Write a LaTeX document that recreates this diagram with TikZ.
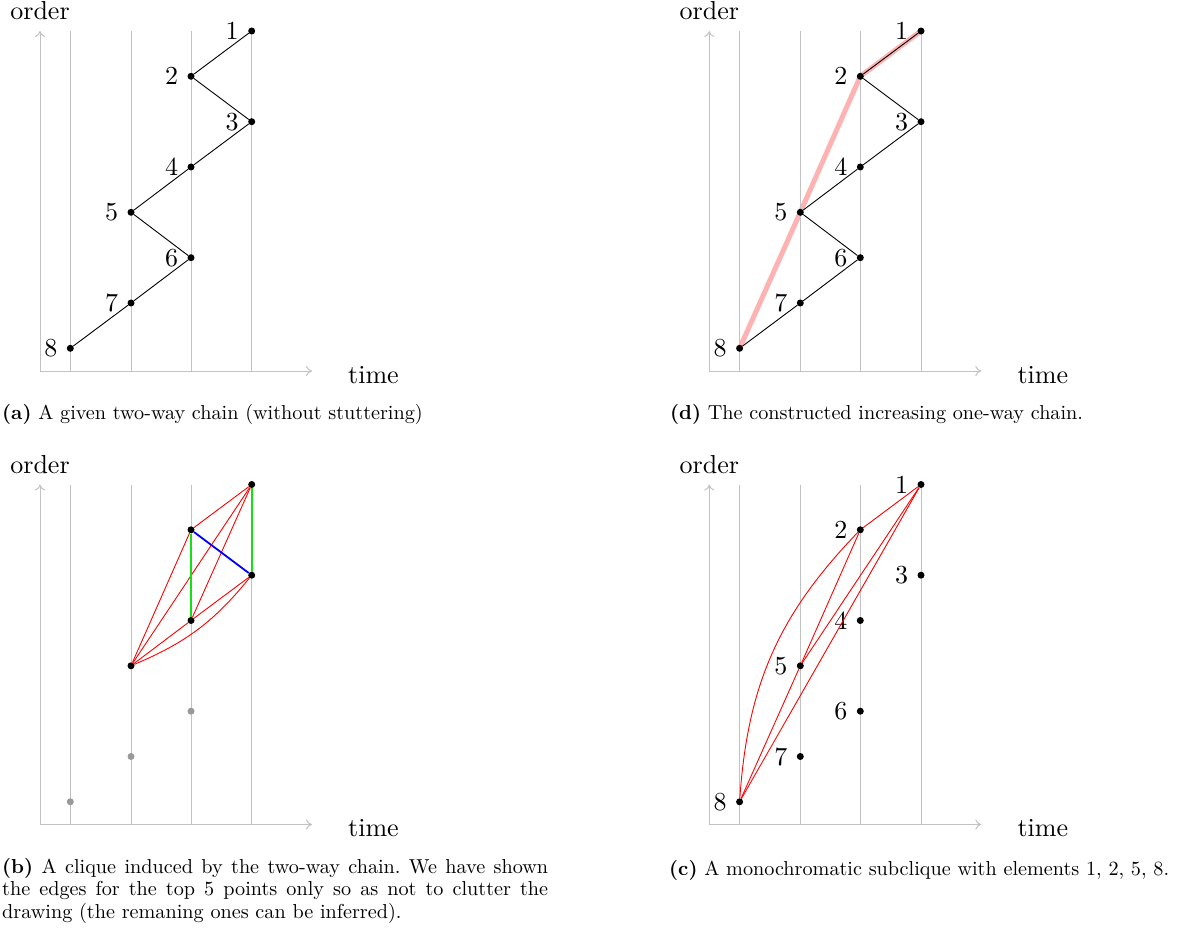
\documentclass[tikz,border=0pt]{standalone}
\usepackage{fontspec}
\setmainfont{lmroman10-regular.otf}[BoldFont=lmroman10-bold.otf, ItalicFont=lmroman10-italic.otf]
\usetikzlibrary{arrows.meta}
\definecolor{axisgray}{gray}{0.76}
\definecolor{pinkline}{RGB}{255,178,178}
\definecolor{dotgray}{gray}{0.6}
\definecolor{brightgreen}{RGB}{20,225,20}
\pgfdeclarelayer{hl}
\pgfsetlayers{hl,main}
\newcommand{\panelframe}[1]{%
  \coordinate (#1o) at (40,-371);
  \coordinate (#1y) at (40,-31);
  \coordinate (#1x) at (312,-371);
  \foreach \gx [count=\gi] in {70.3,131,191,251.7}{
    \coordinate (#1g\gi b) at (\gx,-371);
    \coordinate (#1g\gi t) at (\gx,-31);
    \draw[guide] (#1g\gi b) -- (#1g\gi t);
  }
  \draw[axisarrow] (#1o) -- (#1y);
  \draw[axisarrow] (#1o) -- (#1x);
  \node[lab, anchor=base] (#1order) at (40,-19.5) {order};
  \node[lab, anchor=base west, inner sep=0pt] (#1time) at (348,-383) {time};
}
\begin{document}
\begin{tikzpicture}[x=1pt,y=1pt,
  guide/.style={draw=axisgray, line width=1pt},
  axisarrow/.style={draw=axisgray, line width=1pt, -{To[length=6pt,width=10pt]}},
  pt/.style={circle, fill=black, inner sep=0pt, minimum size=7pt},
  gpt/.style={circle, fill=dotgray, inner sep=0pt, minimum size=7pt},
  chain/.style={draw=black, line width=0.9pt},
  rededge/.style={draw=red, line width=0.9pt},
  greenedge/.style={draw=brightgreen, line width=2.4pt},
  blueedge/.style={draw=blue, line width=1.8pt},
  pinkpath/.style={draw=pinkline, line width=5pt, line join=round},
  lab/.style={font=\fontsize{26}{30}\selectfont},
  every label/.style={inner sep=8.6pt},
  label distance=0.5pt,
  captext/.style={font=\fontsize{20.2}{22.6}\selectfont\frenchspacing, inner sep=0pt}
]
\useasboundingbox (0,0) rectangle (1179,-936);

% ---------- (a) ----------
\begin{scope}
  \panelframe{a}
  \node[pt, label={[lab]left:1}] (a1) at (251.7,-31) {};
  \node[pt, label={[lab]left:2}] (a2) at (191,-76.3) {};
  \node[pt, label={[lab]left:3}] (a3) at (251.7,-121.7) {};
  \node[pt, label={[lab]left:4}] (a4) at (191,-167) {};
  \node[pt, label={[lab]left:5}] (a5) at (131,-212.3) {};
  \node[pt, label={[lab]left:6}] (a6) at (191,-257.7) {};
  \node[pt, label={[lab]left:7}] (a7) at (131,-303) {};
  \node[pt, label={[lab]left:8}] (a8) at (70.3,-348.3) {};
  \draw[chain] (a8) -- (a7) -- (a6) -- (a5) -- (a4) -- (a3) -- (a2) -- (a1);
\end{scope}
\node[captext, anchor=base west] (capa) at (2,-419) {\textbf{(a)} A given two-way chain (without stuttering)};

% ---------- (d) ----------
\begin{scope}[shift={(669.3,0)}]
  \panelframe{d}
  \node[pt, label={[lab]left:1}] (d1) at (251.7,-31) {};
  \node[pt, label={[lab]left:2}] (d2) at (191,-76.3) {};
  \node[pt, label={[lab]left:3}] (d3) at (251.7,-121.7) {};
  \node[pt, label={[lab]left:4}] (d4) at (191,-167) {};
  \node[pt, label={[lab]left:5}] (d5) at (131,-212.3) {};
  \node[pt, label={[lab]left:6}] (d6) at (191,-257.7) {};
  \node[pt, label={[lab]left:7}] (d7) at (131,-303) {};
  \node[pt, label={[lab]left:8}] (d8) at (70.3,-348.3) {};
  \begin{pgfonlayer}{hl}
    \draw[pinkpath] (d8.center) -- (d5.center) -- (d2.center) -- (d1.center);
  \end{pgfonlayer}
  \draw[chain] (d8) -- (d7) -- (d6) -- (d5) -- (d4) -- (d3) -- (d2) -- (d1);
\end{scope}
\node[captext, anchor=base west] (capd) at (670,-419) {\textbf{(d)} The constructed increasing one-way chain.};

% ---------- (b) ----------
\begin{scope}[shift={(0,-453.5)}]
  \panelframe{b}
  \node[pt] (b1) at (251.7,-31) {};
  \node[pt] (b2) at (191,-76.3) {};
  \node[pt] (b3) at (251.7,-121.7) {};
  \node[pt] (b4) at (191,-167) {};
  \node[pt] (b5) at (131,-212.3) {};
  \node[gpt] (b6) at (191,-257.7) {};
  \node[gpt] (b7) at (131,-303) {};
  \node[gpt] (b8) at (70.3,-348.3) {};
  \draw[rededge] (b1) -- (b2);
  \draw[rededge] (b1) -- (b4);
  \draw[rededge] (b1) -- (b5);
  \draw[rededge] (b2) -- (b5);
  \draw[rededge] (b3) -- (b4);
  \draw[rededge] (b4) -- (b5);
  \draw[rededge] (b5) to[bend right=14] (b3);
  \draw[greenedge] (b1) -- (b3);
  \draw[greenedge] (b2) -- (b4);
  \draw[blueedge] (b2) -- (b3);
\end{scope}
\node[captext, anchor=north west, text width=546pt, align=justify] (capb) at (2,-858)
  {\textbf{(b)} A clique induced by the two-way chain. We have shown\linebreak the edges for the top 5 points only so as not to clutter the\linebreak drawing (the remaning ones can be inferred).};

% ---------- (c) ----------
\begin{scope}[shift={(669.3,-453.5)}]
  \panelframe{c}
  \node[pt, label={[lab]left:1}] (c1) at (251.7,-31) {};
  \node[pt, label={[lab]left:2}] (c2) at (191,-76.3) {};
  \node[pt, label={[lab]left:3}] (c3) at (251.7,-121.7) {};
  \node[pt, label={[lab]left:4}] (c4) at (191,-167) {};
  \node[pt, label={[lab]left:5}] (c5) at (131,-212.3) {};
  \node[pt, label={[lab]left:6}] (c6) at (191,-257.7) {};
  \node[pt, label={[lab]left:7}] (c7) at (131,-303) {};
  \node[pt, label={[lab]left:8}] (c8) at (70.3,-348.3) {};
  \draw[rededge] (c1) -- (c2);
  \draw[rededge] (c1) -- (c5);
  \draw[rededge] (c1) -- (c8);
  \draw[rededge] (c2) -- (c5);
  \draw[rededge] (c5) -- (c8);
  \draw[rededge] (c8) to[bend left=20] (c2);
\end{scope}
\node[captext, anchor=base west] (capc) at (669,-875) {\textbf{(c)} A monochromatic subclique with elements 1, 2, 5, 8.};
\end{tikzpicture}
\end{document}
